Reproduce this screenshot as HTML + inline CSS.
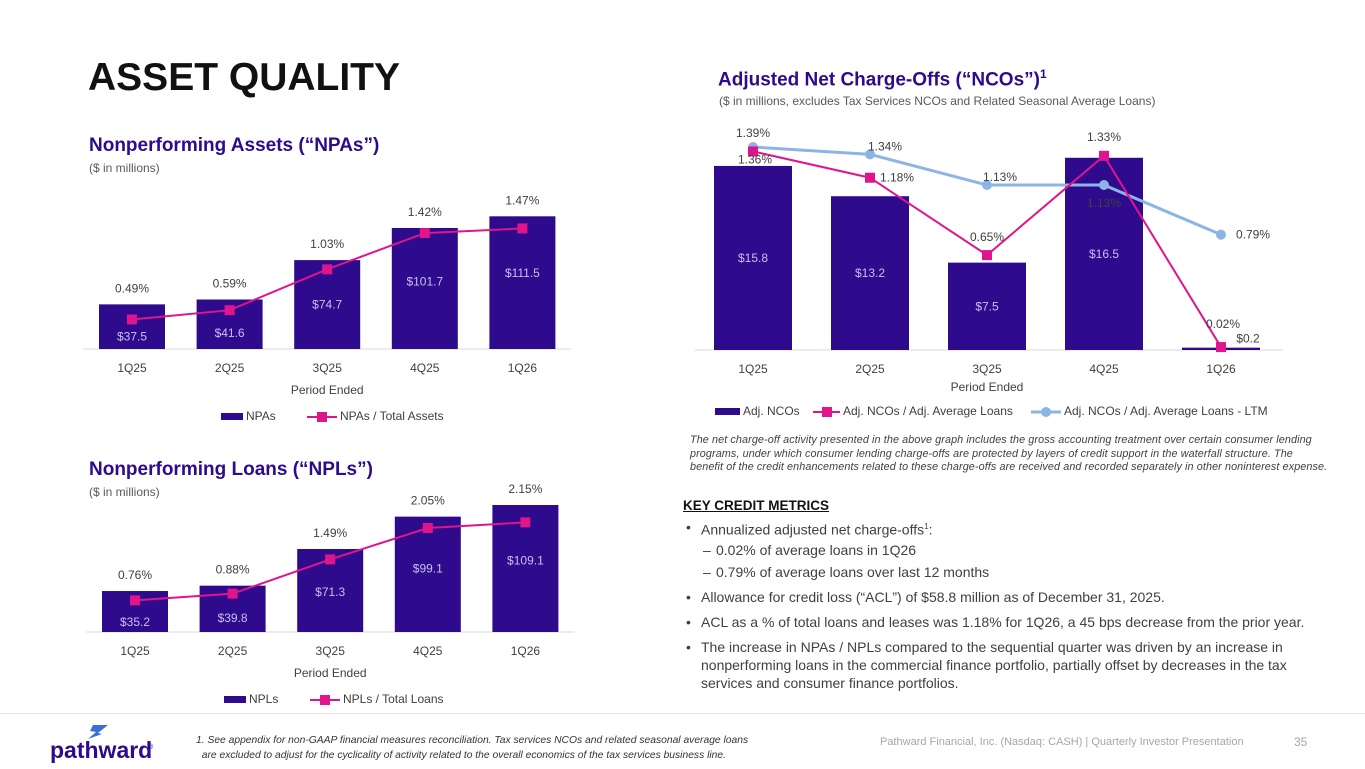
<!DOCTYPE html>
<html><head><meta charset="utf-8"><style>
body{margin:0;width:1365px;height:768px;background:#fff;position:relative;overflow:hidden;font-family:"Liberation Sans",sans-serif;color:#404040}
.a{position:absolute;white-space:nowrap}
.h2{color:#2E0A8C;font-weight:bold;font-size:19px}
.sub{font-size:12px;color:#595959}
svg text{font-family:"Liberation Sans",sans-serif}
</style></head><body>
<div class="a" style="left:88px;top:56px;font-size:39px;font-weight:bold;color:#111">ASSET QUALITY</div>
<div class="a h2" style="left:89px;top:135px">Nonperforming Assets (“NPAs”)</div>
<div class="a sub" style="left:89px;top:161px">($ in millions)</div>
<div class="a h2" style="left:89px;top:459px">Nonperforming Loans (“NPLs”)</div>
<div class="a sub" style="left:89px;top:485px">($ in millions)</div>
<div class="a h2" style="left:718px;top:67px">Adjusted Net Charge-Offs (“NCOs”)<sup style="font-size:12px">1</sup></div>
<div class="a sub" style="left:719px;top:94px">($ in millions, excludes Tax Services NCOs and Related Seasonal Average Loans)</div>
<div class="a" style="left:690px;top:434px;font-size:10.8px;letter-spacing:0.1px;font-style:italic;line-height:13.5px;color:#404040">The net charge-off activity presented in the above graph includes the gross accounting treatment over certain consumer lending<br>programs, under which consumer lending charge-offs are protected by layers of credit support in the waterfall structure. The<br>benefit of the credit enhancements related to these charge-offs are received and recorded separately in other noninterest expense.</div>
<div class="a" style="left:683px;top:498px;font-size:13.5px;font-weight:bold;text-decoration:underline;color:#111">KEY CREDIT METRICS</div>
<div class="a" style="left:683px;top:518px;font-size:14px;line-height:18px;color:#404040;width:670px">
<div style="position:absolute;top:0;left:3px">•</div><div style="position:absolute;top:0;left:18px">Annualized adjusted net charge-offs<sup style="font-size:8px">1</sup>:</div>
<div style="position:absolute;top:23px;left:20px">–</div><div style="position:absolute;top:23px;left:33px">0.02% of average loans in 1Q26</div>
<div style="position:absolute;top:45px;left:20px">–</div><div style="position:absolute;top:45px;left:33px">0.79% of average loans over last 12 months</div>
<div style="position:absolute;top:70px;left:3px">•</div><div style="position:absolute;top:70px;left:18px">Allowance for credit loss (“ACL”) of $58.8 million as of December 31, 2025.</div>
<div style="position:absolute;top:95px;left:3px">•</div><div style="position:absolute;top:95px;left:18px">ACL as a % of total loans and leases was 1.18% for 1Q26, a 45 bps decrease from the prior year.</div>
<div style="position:absolute;top:120px;left:3px">•</div><div style="position:absolute;top:120px;left:18px">The increase in NPAs / NPLs compared to the sequential quarter was driven by an increase in<br>nonperforming loans in the commercial finance portfolio, partially offset by decreases in the tax<br>services and consumer finance portfolios.</div>
</div>
<div class="a" style="left:0;top:713px;width:1365px;height:1px;background:#e3e3e3"></div>
<div class="a" style="left:50px;top:724px;">
<svg width="110" height="40"><polygon points="43,1 58,1 48,9 52,10 38,15 46,8 40,7" fill="#3b6fd8"/><text x="0" y="34" font-size="23" font-weight="bold" fill="#2E0A8C">pathward</text><text x="98" y="25" font-size="7" fill="#2E0A8C">®</text></svg></div>
<div class="a" style="left:196px;top:733px;font-size:10.3px;font-style:italic;line-height:15px;color:#333">1. See appendix for non-GAAP financial measures reconciliation. Tax services NCOs and related seasonal average loans<br>&nbsp;&nbsp;are excluded to adjust for the cyclicality of activity related to the overall economics of the tax services business line.</div>
<div class="a" style="left:880px;top:736px;font-size:11px;color:#a6a6a6">Pathward Financial, Inc. (Nasdaq: CASH) | Quarterly Investor Presentation</div>
<div class="a" style="left:1294px;top:735px;font-size:12px;color:#a6a6a6">35</div>

<svg id="charts" width="1365" height="768" style="position:absolute;left:0;top:0"></svg>
<script>
const categories=["1Q25","2Q25","3Q25","4Q25","1Q26"];
const npaValues=[37.5,41.6,74.7,101.7,111.5];
const npaPct=[0.49,0.59,1.03,1.42,1.47];
const nplValues=[35.2,39.8,71.3,99.1,109.1];
const nplPct=[0.76,0.88,1.49,2.05,2.15];
const ncoValues=[15.8,13.2,7.5,16.5,0.2];
const ncoPct=[1.36,1.18,0.65,1.33,0.02];
const ncoLtm=[1.39,1.34,1.13,1.13,0.79];
const BAR="#2E0A8C",MAG="#E0148C",BLU="#8DB4E6";
const svg=document.getElementById('charts');
const NS="http://www.w3.org/2000/svg";
function mk(tag,at,name){const e=document.createElementNS(NS,tag);for(const k in at)e.setAttribute(k,at[k]);


svg.appendChild(e);return e;}
function txt(x,y,s,name,o){const t=mk('text',Object.assign({x:x,y:y,'font-size':12,fill:'#404040','text-anchor':'middle'},o||{}),name);t.textContent=s;return t;}
function barChart(cfg){
  const xs=i=>cfg.x0+cfg.step*i;
  const yb=v=>cfg.base-v*cfg.k;
  const yp=v=>cfg.pzero-v*cfg.pk;
  mk('line',{x1:cfg.x0-cfg.step/2,x2:cfg.x0+cfg.step*4.5,y1:cfg.base,y2:cfg.base,stroke:'#d9d9d9'},cfg.id+'-x-axis');
  cfg.vals.forEach((v,i)=>{
    const h=v*cfg.k;
    mk('rect',{x:xs(i)-cfg.bw/2,y:yb(v),width:cfg.bw,height:h,fill:BAR},cfg.id+'-bar-'+categories[i].toLowerCase());
    txt(xs(i),yb(v)+36+(h-45)*0.284,'$'+v.toFixed(1),cfg.id+'-bar-label',{fill:'#c9bff0'});
    txt(xs(i),cfg.base+23,categories[i],'x-tick-label');
  });
  const pts=cfg.pct.map((p,i)=>xs(i)+','+yp(p)).join(' ');
  mk('polyline',{points:pts,fill:'none',stroke:MAG,'stroke-width':2},cfg.id+'-pct-line');
  cfg.pct.forEach((p,i)=>{
    mk('rect',{x:xs(i)-5,y:yp(p)-5,width:10,height:10,fill:MAG},cfg.id+'-pct-marker');
    txt(xs(i),Math.min(yb(cfg.vals[i]),yp(p))-12,p.toFixed(2)+'%',cfg.id+'-pct-label');
  });
  txt(xs(2),cfg.base+45,'Period Ended',cfg.id+'-x-axis-title');
  const ly=cfg.base+69;
  mk('rect',{x:cfg.lx,y:ly-5,width:22,height:7,fill:BAR},'legend-swatch-bars');
  txt(cfg.lx+25,ly+2,cfg.l1,'legend-entry',{'text-anchor':'start'});
  mk('line',{x1:cfg.lx+86,x2:cfg.lx+116,y1:ly-1,y2:ly-1,stroke:MAG,'stroke-width':2},'legend-swatch-line');
  mk('rect',{x:cfg.lx+96,y:ly-6,width:10,height:10,fill:MAG},'legend-swatch-marker');
  txt(cfg.lx+119,ly+2,cfg.l2,'legend-entry',{'text-anchor':'start'});
}
barChart({id:'npa',vals:npaValues,pct:npaPct,x0:132,step:97.6,bw:66,base:349,k:1.19,pzero:365,pk:92.9,lx:221,l1:'NPAs',l2:'NPAs / Total Assets'});
barChart({id:'npl',vals:nplValues,pct:nplPct,x0:135,step:97.6,bw:66,base:632,k:1.164,pzero:643,pk:56.1,lx:224,l1:'NPLs',l2:'NPLs / Total Loans'});
const nx=i=>753+117*i, nb=v=>350-v*11.65, np=v=>350-v*146;
mk('line',{x1:695,x2:1283,y1:350,y2:350,stroke:'#d9d9d9'},'nco-x-axis');
ncoValues.forEach((v,i)=>{
  mk('rect',{x:nx(i)-39,y:nb(v),width:78,height:v*11.65,fill:BAR},'nco-bar-'+categories[i].toLowerCase());
  if(v>2) txt(nx(i),(nb(v)+350)/2+4,'$'+v.toFixed(1),'nco-bar-label',{fill:'#c9bff0'});
  else txt(nx(i)+27,nb(v)-5,'$'+v.toFixed(1),'nco-bar-label');
  txt(nx(i),373,categories[i],'x-tick-label');
});
txt(nx(2),391,'Period Ended','nco-x-axis-title');
mk('polyline',{points:ncoLtm.map((p,i)=>nx(i)+','+np(p)).join(' '),fill:'none',stroke:BLU,'stroke-width':3},'nco-ltm-line');
mk('polyline',{points:ncoPct.map((p,i)=>nx(i)+','+np(p)).join(' '),fill:'none',stroke:MAG,'stroke-width':2},'nco-pct-line');
ncoLtm.forEach((p,i)=>mk('circle',{cx:nx(i),cy:np(p),r:5,fill:BLU},'nco-ltm-marker'));
ncoPct.forEach((p,i)=>mk('rect',{x:nx(i)-5,y:np(p)-5,width:10,height:10,fill:MAG},'nco-pct-marker'));
const ltmDx=[0,15,13,0,32], ltmDy=[-10,-4,-4,22,4];
const pctDx=[2,27,0,0,2], pctDy=[12,4,-14,-15,-19];
ncoLtm.forEach((p,i)=>txt(nx(i)+ltmDx[i],np(p)+ltmDy[i],p.toFixed(2)+'%','nco-ltm-label'));
ncoPct.forEach((p,i)=>txt(nx(i)+pctDx[i],np(p)+pctDy[i],p.toFixed(2)+'%','nco-pct-label'));
const ly=412;
mk('rect',{x:715,y:ly-4,width:25,height:7,fill:BAR},'legend-swatch-bars');
txt(743,ly+3,'Adj. NCOs','legend-entry',{'text-anchor':'start'});
mk('line',{x1:813,x2:840,y1:ly,y2:ly,stroke:MAG,'stroke-width':2},'legend-swatch-line');
mk('rect',{x:822,y:ly-5,width:10,height:10,fill:MAG},'legend-swatch-marker');
txt(843,ly+3,'Adj. NCOs / Adj. Average Loans','legend-entry',{'text-anchor':'start'});
mk('line',{x1:1031,x2:1061,y1:ly,y2:ly,stroke:BLU,'stroke-width':3},'legend-swatch-ltm-line');
mk('circle',{cx:1046,cy:ly,r:5,fill:BLU},'legend-swatch-ltm-marker');
txt(1064,ly+3,'Adj. NCOs / Adj. Average Loans - LTM','legend-entry',{'text-anchor':'start'});
</script>
</body></html>
